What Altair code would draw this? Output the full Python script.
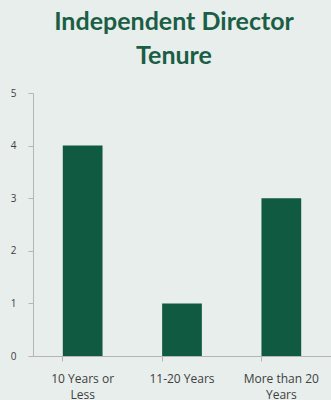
import altair as alt
import pandas as pd

# Independent director tenure buckets and the number of directors in each
categories = ["10 Years or Less", "11-20 Years", "More than 20 Years"]
directors = [4, 1, 3]

# how each category label breaks onto lines under the axis
wrapped = {
    "10 Years or Less": ["10 Years or", "Less"],
    "11-20 Years": ["11-20 Years"],
    "More than 20 Years": ["More than 20", "Years"],
}

df = pd.DataFrame({"tenure": categories, "directors": directors})

label_expr = " : ".join(
    [f"datum.label == '{k}' ? {v}" for k, v in wrapped.items()] + ["datum.label"]
)

GREEN = "#0f5a40"
BG = "#e7eeec"
FONT = "Lato"
LABEL_FONT = "Open Sans"

chart = (
    alt.Chart(df)
    .mark_bar(color=GREEN)
    .encode(
        x=alt.X(
            "tenure:N",
            sort=categories,
            title=None,
            scale=alt.Scale(paddingInner=0.6, paddingOuter=0.3),
            axis=alt.Axis(
                labelAngle=0,
                labelExpr=label_expr,
                labelFont=LABEL_FONT,
                labelFontSize=12,
                labelColor="#404040",
                labelLineHeight=16,
                labelPadding=12,
                bandPosition=0,
                tickSize=5,
                tickColor="#b5b5b5",
                domainColor="#b5b5b5",
                labelOverlap=False,
            ),
        ),
        y=alt.Y(
            "directors:Q",
            title=None,
            scale=alt.Scale(domain=[0, 5]),
            axis=alt.Axis(
                values=[0, 1, 2, 3, 4, 5],
                grid=False,
                labelFont=LABEL_FONT,
                labelFontSize=10,
                labelColor="#404040",
                labelPadding=12,
                tickSize=5,
                tickColor="#b5b5b5",
                domainColor="#b5b5b5",
            ),
        ),
    )
    .properties(
        width=298,
        height=263,
        autosize=alt.AutoSizeParams(type="none"),
        padding={"left": 33, "top": 93, "right": 0, "bottom": 44},
        background=BG,
        title=alt.TitleParams(
            text=["Independent Director", "Tenure"],
            font=FONT,
            fontSize=25,
            fontWeight="bold",
            color="#1b5e45",
            anchor="middle",
            dx=-8,
            dy=28,
            offset=27,
            lineHeight=34,
            baseline="alphabetic",
        ),
    )
    .configure_view(stroke=None)
)

chart.save("out.html", embed_options={"renderer": "svg", "actions": False})
